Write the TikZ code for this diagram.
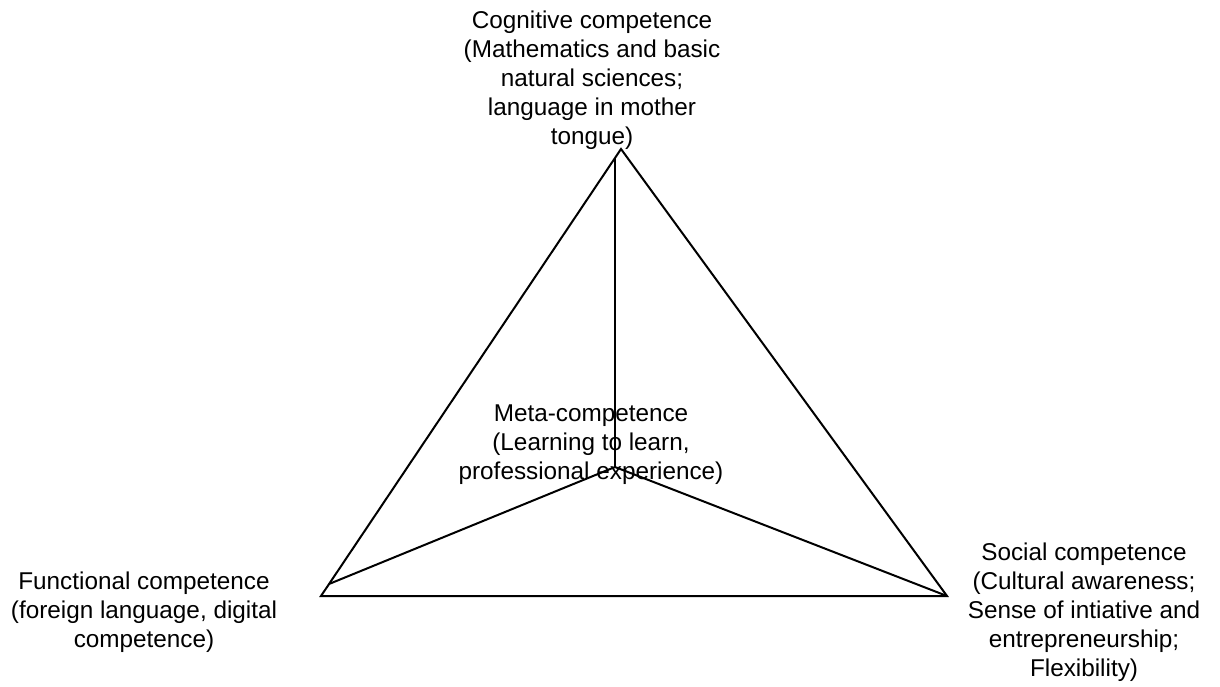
\documentclass[tikz,border=0pt]{standalone}
\usepackage{fontspec}
\setmainfont{Liberation Sans}
\usetikzlibrary{positioning}

\begin{document}
\begin{tikzpicture}[x=0.5pt,y=-0.5pt,line width=1pt,
                    label node/.style={align=center,inner sep=0pt,font=\fontsize{12.15}{14.55}\selectfont}]
  \useasboundingbox (0,0) rectangle (1220,686);

  % corners of the triangle and the centre
  \coordinate (top) at (621,149);
  \coordinate (left) at (321,596);
  \coordinate (right) at (947,596);
  \coordinate (topin) at (615,158);
  \coordinate (leftin) at (329,584);
  \coordinate (mid) at (615,467);

  \node[label node] (cog) at (592,80) {Cognitive competence\\(Mathematics and basic\\natural sciences;\\language in mother\\tongue)};
  \node[label node] (meta) at (591,445) {Meta-competence\\(Learning to learn,\\professional experience)};
  \node[label node] (func) at (144,612) {Functional competence\\(foreign language, digital\\competence)};
  \node[label node] (soc) at (1084,612) {Social competence\\(Cultural awareness;\\Sense of intiative and\\entrepreneurship;\\Flexibility)};

  \draw (top) -- (left) -- (right) -- cycle;
  \draw (topin) -- (mid);
  \draw (leftin) -- (mid);
  \draw (right) -- (mid);
\end{tikzpicture}
\end{document}
